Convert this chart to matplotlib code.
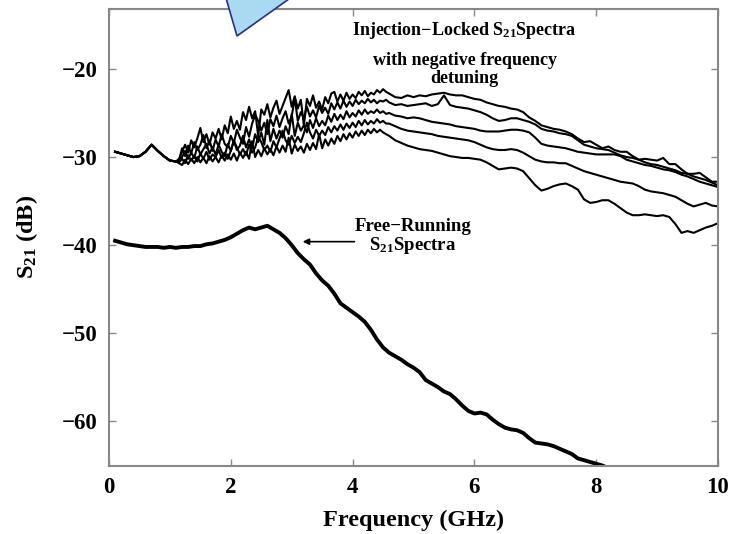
import numpy as np
import matplotlib
matplotlib.use("Agg")
import matplotlib.pyplot as plt
from matplotlib.patches import Polygon

plt.rcParams['font.family'] = ['Liberation Serif', 'DejaVu Serif']
plt.rcParams['font.weight'] = 'bold'
plt.rcParams['mathtext.fontset'] = 'custom'
plt.rcParams['mathtext.rm'] = 'Liberation Serif:bold'
plt.rcParams['mathtext.bf'] = 'Liberation Serif:bold'
plt.rcParams['mathtext.it'] = 'Liberation Serif:bold'

# ---------------- data ----------------
# Free-running S21 (GHz, dB)
free_freq = [0.1, 0.2, 0.3, 0.4, 0.5, 0.6, 0.7, 0.8, 0.9, 1.0, 1.1, 1.2, 1.3, 1.4, 1.5,
             1.6, 1.7, 1.8, 1.9, 2.0, 2.1, 2.2, 2.3, 2.4, 2.5, 2.6, 2.7, 2.8, 2.9, 3.0,
             3.1, 3.2, 3.3, 3.4, 3.5, 3.6, 3.7, 3.8, 3.9, 4.0, 4.1, 4.2, 4.3, 4.4, 4.5,
             4.6, 4.7, 4.8, 4.9, 5.0, 5.1, 5.2, 5.3, 5.4, 5.5, 5.6, 5.7, 5.8, 5.9, 6.0,
             6.1, 6.2, 6.3, 6.4, 6.5, 6.6, 6.7, 6.8, 6.9, 7.0, 7.1, 7.2, 7.3, 7.4, 7.5,
             7.6, 7.7, 7.8, 7.9, 8.0, 8.1, 8.2]
free_db = [-39.5, -39.7, -39.9, -40.0, -40.1, -40.2, -40.2, -40.2, -40.3, -40.2, -40.3,
           -40.2, -40.2, -40.1, -40.1, -39.9, -39.8, -39.6, -39.4, -39.1, -38.7, -38.3,
           -38.0, -38.2, -38.0, -37.8, -38.2, -38.6, -39.2, -40.0, -40.9, -41.6, -42.2,
           -43.2, -44.0, -44.6, -45.5, -46.6, -47.1, -47.6, -48.1, -48.7, -49.6, -50.7,
           -51.6, -52.2, -52.6, -53.0, -53.5, -53.9, -54.4, -55.3, -55.7, -56.1, -56.6,
           -56.9, -57.5, -58.2, -58.8, -59.1, -59.0, -59.2, -59.8, -60.3, -60.7, -60.9,
           -61.0, -61.3, -61.9, -62.4, -62.5, -62.6, -62.8, -63.1, -63.4, -63.7, -64.2,
           -64.4, -64.6, -64.8, -65.0, -65.3]

# Injection-locked S21: common low-frequency part
common_freq = [0.1, 0.2, 0.3, 0.4, 0.5, 0.6, 0.7, 0.8, 0.9, 1.0, 1.1]
common_db = [-29.4, -29.6, -29.8, -30.0, -29.9, -29.4, -28.6, -29.3, -29.9, -30.4, -30.5]

# Individual injection-locked curves, 1.15 - 10.0 GHz
lock_freq = [1.15, 1.20, 1.25, 1.30, 1.35, 1.40, 1.45, 1.50, 1.55, 1.60, 1.65, 1.70,
             1.75, 1.80, 1.85, 1.90, 1.95, 2.00, 2.05, 2.10, 2.15, 2.20, 2.25, 2.30,
             2.35, 2.40, 2.45, 2.50, 2.55, 2.60, 2.65, 2.70, 2.75, 2.80, 2.85, 2.90,
             2.95, 3.00, 3.05, 3.10, 3.15, 3.20, 3.25, 3.30, 3.35, 3.40, 3.45, 3.50,
             3.55, 3.60, 3.65, 3.70, 3.75, 3.80, 3.85, 3.90, 3.95, 4.00, 4.05, 4.10,
             4.15, 4.20, 4.25, 4.30, 4.35, 4.40, 4.45, 4.50, 4.55, 4.60,
             4.7, 4.8, 4.9, 5.0, 5.1, 5.2, 5.3, 5.4, 5.5, 5.6, 5.7, 5.8, 5.9, 6.0,
             6.1, 6.2, 6.3, 6.4, 6.5, 6.6, 6.7, 6.8, 6.9, 7.0, 7.1, 7.2, 7.3, 7.4,
             7.5, 7.6, 7.7, 7.8, 7.9, 8.0, 8.1, 8.2, 8.3, 8.4, 8.5, 8.6, 8.7, 8.8,
             8.9, 9.0, 9.1, 9.2, 9.3, 9.4, 9.5, 9.6, 9.7, 9.8, 9.9, 10.0]

lock_db_1 = [-30.2, -29.4, -28.6, -29.5, -28.1, -28.9, -27.9, -26.7, -28.3, -27.4, -28.6, -27.2,
             -27.9, -26.8, -28.0, -26.4, -27.3, -25.4, -26.8, -25.9, -26.9, -24.9, -25.8, -24.3,
             -25.6, -24.8, -27.6, -24.6, -25.2, -24.0, -25.5, -24.4, -23.6, -25.1, -24.2, -23.3,
             -22.4, -24.3, -23.1, -24.5, -23.5, -26.4, -23.4, -24.2, -23.0, -24.4, -23.7, -24.6,
             -23.2, -23.9, -22.8, -22.6, -23.7, -22.9, -23.6, -22.7, -23.4, -22.9, -23.3, -22.6,
             -23.0, -22.5, -23.1, -22.7, -22.9, -22.4, -22.7, -22.3, -22.6, -22.8,
             -23.2, -23.3, -23.0, -23.2, -23.0, -23.1, -22.9, -22.8, -22.7, -22.9, -23.0, -23.0,
             -23.2, -23.4, -23.5, -23.8, -24.0, -24.2, -24.3, -24.5, -24.6, -24.9, -25.5, -25.9,
             -26.4, -26.6, -26.8, -26.9, -27.1, -27.4, -27.9, -28.3, -28.2, -28.6, -29.0, -28.8,
             -29.2, -29.4, -29.4, -29.9, -30.3, -30.2, -30.3, -30.4, -30.1, -30.8, -30.8, -31.4,
             -31.9, -31.9, -31.8, -32.3, -32.8, -32.8]
lock_db_2 = [-30.4, -29.0, -29.9, -28.7, -29.6, -28.3, -29.2, -28.6, -27.5, -29.0, -28.1, -29.3,
             -28.0, -28.8, -27.4, -28.5, -28.9, -27.6, -28.4, -26.9, -27.8, -28.5, -26.6, -27.7,
             -26.2, -25.2, -25.9, -27.0, -26.1, -27.4, -25.7, -26.5, -25.3, -26.6, -25.6, -24.8,
             -26.2, -25.4, -23.3, -25.9, -24.9, -25.6, -24.3, -25.4, -24.7, -25.5, -24.2, -25.0,
             -24.4, -25.1, -23.9, -24.6, -23.8, -24.5, -23.6, -24.3, -23.7, -24.2, -23.5, -24.0,
             -23.6, -23.9, -23.4, -23.8, -23.5, -23.9, -23.6, -23.7, -23.5, -23.8,
             -24.1, -24.0, -24.2, -24.1, -24.0, -23.9, -24.2, -24.0, -23.0, -24.1, -24.3, -24.4,
             -24.5, -24.7, -24.9, -25.2, -25.6, -25.9, -25.8, -25.6, -25.6, -25.8, -26.0, -26.3,
             -26.8, -27.0, -27.1, -27.3, -27.4, -27.6, -28.1, -28.6, -28.8, -29.0, -29.1, -29.2,
             -29.5, -29.8, -30.0, -30.1, -30.3, -30.6, -30.8, -30.9, -31.1, -31.3, -31.5, -31.8,
             -31.9, -32.2, -32.4, -32.6, -32.9, -33.2]
lock_db_3 = [-30.5, -30.0, -29.3, -30.2, -29.5, -30.1, -28.8, -29.7, -29.1, -28.5, -29.6, -28.9,
             -29.7, -28.6, -29.4, -29.9, -28.5, -29.3, -28.1, -29.2, -28.7, -27.6, -28.9, -28.0,
             -29.0, -27.4, -28.3, -27.2, -28.6, -25.8, -28.2, -26.8, -27.9, -27.0, -27.8, -26.5,
             -27.4, -25.1, -27.6, -26.1, -27.0, -26.4, -27.2, -25.8, -26.7, -25.6, -26.5, -25.9,
             -26.4, -25.3, -26.0, -25.1, -25.8, -25.2, -25.7, -24.8, -25.5, -25.0, -25.4, -24.7,
             -25.2, -24.6, -25.1, -24.8, -25.0, -24.6, -25.0, -24.8, -25.1, -25.0,
             -25.3, -25.4, -25.6, -25.5, -25.6, -25.8, -26.0, -26.1, -26.2, -26.3, -26.5, -26.6,
             -26.7, -26.8, -27.0, -27.1, -27.1, -27.1, -27.0, -26.9, -26.9, -27.0, -27.2, -27.8,
             -28.5, -28.7, -28.8, -28.9, -29.0, -29.2, -29.4, -29.5, -29.6, -29.7, -29.7, -29.7,
             -29.7, -29.9, -30.3, -30.5, -30.7, -30.9, -31.0, -31.2, -31.4, -31.5, -31.7, -32.0,
             -32.2, -32.5, -32.8, -33.0, -33.2, -33.4]
lock_db_4 = [-30.6, -30.2, -30.7, -29.8, -30.4, -29.9, -30.5, -29.6, -30.2, -29.4, -30.3, -29.7,
             -30.0, -29.2, -30.1, -29.5, -30.2, -29.3, -28.2, -28.9, -29.7, -29.1, -29.8, -28.6,
             -29.5, -28.9, -27.7, -28.3, -29.2, -28.7, -29.4, -28.2, -28.9, -27.9, -27.0, -28.1,
             -28.6, -27.6, -28.4, -27.7, -28.3, -27.3, -26.1, -27.2, -27.9, -26.9, -27.6, -27.0,
             -27.5, -26.6, -27.2, -26.5, -27.0, -26.3, -26.9, -26.2, -26.7, -26.1, -26.6, -25.9,
             -26.4, -25.8, -26.3, -25.9, -26.2, -25.7, -26.1, -25.9, -26.2, -26.2,
             -26.5, -26.8, -27.0, -27.1, -27.2, -27.3, -27.4, -27.6, -27.7, -27.8, -27.9, -28.0,
             -28.1, -28.3, -28.6, -28.9, -29.1, -29.2, -29.2, -29.1, -29.2, -29.5, -29.9, -30.3,
             -30.5, -30.6, -30.6, -30.7, -30.7, -31.0, -31.3, -31.6, -31.8, -32.0, -32.2, -32.4,
             -32.6, -32.8, -32.9, -33.0, -33.3, -33.7, -33.9, -34.0, -34.1, -34.3, -34.5, -34.9,
             -35.3, -35.6, -35.4, -35.2, -35.5, -35.6]
lock_db_5 = [-30.7, -30.9, -30.3, -30.8, -30.2, -30.7, -30.0, -30.6, -30.1, -30.7, -29.9, -30.5,
             -30.0, -30.6, -29.8, -30.4, -29.7, -30.3, -29.6, -30.4, -29.5, -30.1, -29.4, -30.2,
             -28.2, -30.0, -29.2, -29.9, -29.0, -29.7, -29.1, -29.8, -28.8, -29.5, -28.7, -29.4,
             -27.8, -29.6, -28.6, -29.3, -28.8, -29.5, -28.5, -29.2, -28.4, -29.1, -27.4, -29.0,
             -28.0, -28.7, -27.9, -28.5, -27.6, -28.2, -27.4, -28.0, -27.3, -27.8, -27.1, -27.6,
             -27.0, -27.5, -26.9, -27.3, -26.8, -27.2, -26.9, -27.2, -27.4, -27.6,
             -28.1, -28.4, -28.7, -28.9, -29.1, -29.2, -29.3, -29.5, -29.7, -29.9, -30.0, -30.1,
             -30.1, -30.2, -30.3, -30.6, -31.0, -31.4, -31.3, -31.2, -31.3, -31.6, -32.4, -33.2,
             -33.8, -33.6, -33.3, -33.1, -33.0, -33.3, -33.7, -34.8, -35.2, -35.1, -34.9, -34.9,
             -35.3, -35.8, -36.3, -36.6, -36.6, -36.5, -36.6, -36.7, -36.6, -36.8, -37.6, -38.6,
             -38.4, -38.6, -38.3, -38.0, -37.8, -37.5]

x_ticks = [0, 2, 4, 6, 8, 10]
y_ticks = [-20, -30, -40, -50, -60]

# ---------------- figure ----------------
fig = plt.figure(figsize=(7.31, 5.34), dpi=100)
ax = fig.add_axes([109 / 731, 1 - 465.5 / 534, (718 - 109) / 731, (465.5 - 9) / 534])

for ydb in [lock_db_1, lock_db_2, lock_db_3, lock_db_4, lock_db_5]:
    ax.plot(common_freq + lock_freq, common_db + ydb, color='black', lw=1.5,
            solid_joinstyle='round')

ax.plot(free_freq, free_db, color='black', lw=2.8, solid_joinstyle='round')

ax.set_xlim(0, 10)
ax.set_ylim(-65, -13.2)
ax.set_xticks(x_ticks)
ax.set_yticks(y_ticks)
ax.tick_params(direction='in', top=True, right=True, length=5, width=1.0,
               color='#888888', labelsize=16.5, pad=8)
for lab in ax.get_xticklabels() + ax.get_yticklabels():
    lab.set_fontweight('bold')
for sp in ax.spines.values():
    sp.set_color('#888888')
    sp.set_linewidth(1.5)

ax.set_xlabel('Frequency (GHz)', fontsize=17.5, fontweight='bold', labelpad=9)
ax.set_ylabel('S$_{21}$ (dB)', fontsize=17.5, fontweight='bold', labelpad=16)

# annotations
ax.text(5.84, -15.6, 'Injection\u2212Locked S$_{21}$Spectra', ha='center', va='center',
        fontsize=13, fontweight='bold')
ax.text(5.84, -19.1, 'with negative frequency', ha='center', va='center',
        fontsize=13, fontweight='bold')
ax.text(5.84, -21.1, 'detuning', ha='center', va='center',
        fontsize=13, fontweight='bold')

ax.text(5.0, -37.9, 'Free\u2212Running', ha='center', va='center',
        fontsize=13.5, fontweight='bold')
ax.text(4.98, -40.0, 'S$_{21}$Spectra', ha='center', va='center',
        fontsize=13.5, fontweight='bold')
ax.annotate('', xy=(3.18, -39.6), xytext=(4.03, -39.6),
            arrowprops=dict(arrowstyle='-|>', color='black', lw=1.2,
                            mutation_scale=9, shrinkA=0, shrinkB=0))

# light-blue callout piece at top
poly = Polygon([(225 / 731, 1.01), (237 / 731, 1 - 36 / 534), (295 / 731, 1.01)],
               closed=True, transform=fig.transFigure, facecolor='#a9daf1',
               edgecolor='#22308f', lw=1.2, zorder=10, clip_on=False)
fig.add_artist(poly)

fig.savefig('out.png', dpi=100)
